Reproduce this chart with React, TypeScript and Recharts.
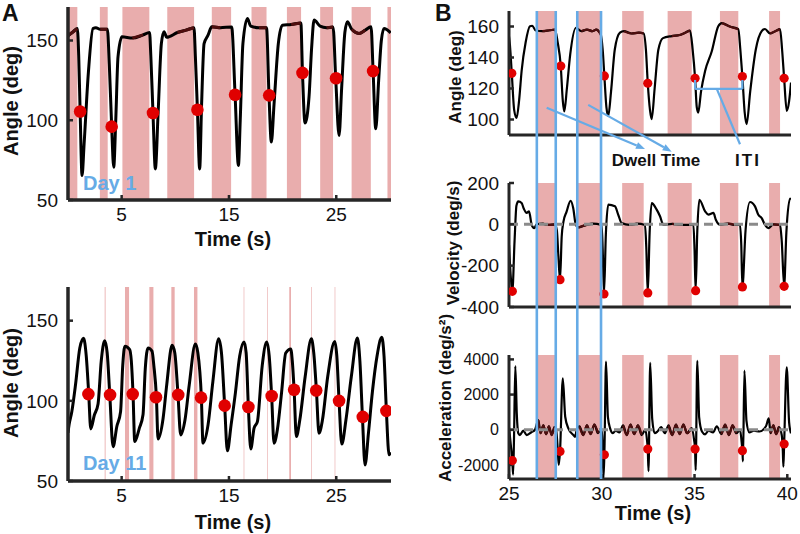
import React from 'react';
import {
  ComposedChart, Line, Scatter, XAxis, YAxis, ReferenceArea, ReferenceLine,
} from 'recharts';

const FONT = '"Liberation Sans", Arial, Helvetica, sans-serif';
const PINK = '#e9adad';
const RED = '#e00000';
const DWELL_LINE = '#4e0e0e';
const BLUE = '#66abe6';
const AXIS = '#262626';

// ---------- Panel A, Day 1 (time s, angle deg) ----------
const DAY1_ANGLE: number[][] = [
  [0.0, 153], [0.4, 155], [0.87, 157.5], [1.0, 140], [1.13, 105.5], [1.31, 65.3], [1.5, 85], [1.9, 130], [2.33, 157.5],
  [2.6, 158], [3.0, 157], [3.67, 157], [3.85, 135], [4.07, 96], [4.26, 70.6], [4.45, 100], [4.66, 139.7], [5.03, 152.3],
  [6.0, 151.5], [7.0, 153.5], [7.6, 155], [7.72, 140], [7.92, 104.5], [8.14, 69.5], [8.4, 105], [8.7, 148], [8.95, 155.5],
  [9.2, 152], [10.2, 155], [11.0, 156.5], [11.74, 158], [11.87, 140], [12.06, 106.6], [12.27, 69.5], [12.45, 110],
  [12.68, 148], [13.05, 153.3], [13.4, 158.6], [14.2, 158], [15.25, 158.5], [15.57, 116], [15.88, 71.6], [16.05, 100],
  [16.3, 148], [16.72, 163.8], [17.03, 159], [17.8, 158], [18.5, 158], [18.73, 115.6], [18.95, 86.3], [19.2, 110],
  [19.6, 148], [19.98, 159.6], [20.8, 160], [21.7, 161], [21.85, 129.7], [22.09, 98.2], [22.46, 114.6], [22.7, 145],
  [22.93, 162.8], [23.49, 159], [24.1, 158], [24.7, 158.4], [24.95, 126], [25.26, 90.4], [25.5, 120], [25.8, 155],
  [26.04, 161.8], [26.44, 157], [27.12, 154.4], [27.7, 156.5], [28.24, 158.6], [28.43, 131], [28.68, 94.6],
  [28.95, 125], [29.2, 150], [29.45, 157.5], [30.07, 154.8],
];
const DAY1_DOTS: number[][] = [
  [1.13, 105.5], [4.07, 96], [7.92, 104.5], [12.06, 106.6], [15.57, 116], [18.75, 115.6], [21.85, 129.7], [24.98, 126.3], [28.43, 130.8],
];
const DAY1_DWELL: number[][] = [
  [0, 0.87], [2.97, 3.7], [5.07, 7.58], [9.25, 11.75], [13.4, 15.2], [17.1, 18.5], [20.4, 21.72], [23.5, 24.7], [26.43, 28.22], [29.77, 30.1],
];

// ---------- Panel A, Day 11 ----------
const DAY11_ANGLE: number[][] = [
  [0.0, 80], [0.1, 85], [0.35, 93], [0.7, 110], [1.1, 133], [1.45, 139], [1.7, 128], [1.93, 104.4], [2.12, 82.5],
  [2.45, 91], [2.8, 98], [3.1, 125], [3.42, 137.5], [3.65, 130], [3.89, 104.2], [4.2, 71.4], [4.55, 84], [4.9, 93.3],
  [5.1, 122], [5.3, 134], [5.75, 132], [5.9, 125], [6.06, 104.4], [6.22, 74.6], [6.65, 83], [6.99, 91.3], [7.2, 120],
  [7.46, 133], [7.83, 131], [8.0, 122], [8.24, 102], [8.39, 76.2], [8.86, 89], [9.2, 110], [9.7, 134.6], [9.95, 130],
  [10.25, 103.7], [10.5, 78.7], [10.9, 88], [11.3, 110], [11.87, 135.4], [12.1, 130], [12.43, 101.7], [12.58, 73.6],
  [13.05, 85], [13.5, 112], [14.04, 138.7], [14.3, 130], [14.6, 97], [14.85, 68.8], [15.2, 85], [15.6, 105], [16.0, 128],
  [16.4, 136.7], [16.6, 130], [16.81, 95.8], [17.03, 70], [17.34, 83], [17.65, 87], [18.1, 122], [18.52, 136.7],
  [18.75, 128], [18.98, 102.7], [19.2, 73.6], [19.51, 82], [19.9, 105], [20.29, 129.8], [20.76, 132.3], [20.9, 125],
  [21.07, 106.9], [21.28, 77.7], [21.6, 88], [22.1, 115], [22.68, 138.7], [22.9, 130], [23.15, 106.3], [23.39, 79.8],
  [23.71, 88], [24.2, 115], [24.86, 137], [25.05, 128], [25.26, 100], [25.51, 73], [25.9, 88], [26.4, 115], [26.97, 139.2],
  [27.2, 125], [27.44, 89.8], [27.68, 60], [28.0, 80], [28.37, 105.8], [28.8, 128], [29.24, 139.6], [29.45, 128],
  [29.67, 93.75], [29.92, 66.3], [30.05, 68],
];
const DAY11_DOTS: number[][] = [
  [1.9, 104.2], [3.92, 103.7], [6.03, 104.2], [8.2, 102.2], [10.27, 103.7], [12.4, 102], [14.6, 97], [16.81, 96.2],
  [18.98, 103], [21.07, 106.9], [23.13, 106.4], [25.26, 100], [27.47, 90], [29.67, 93.75],
];
const DAY11_DWELL: number[][] = [
  [3.42, 3.5], [5.31, 5.69], [7.58, 7.96], [9.63, 9.94], [11.74, 12.06], [16.37, 16.43], [18.55, 18.61], [20.62, 20.78], [22.65, 22.71], [24.85, 24.91],
];

// ---------- Panel B (25–40 s) ----------
const B_ANGLE: number[][] = [
  [24.95, 158], [25.05, 148], [25.15, 129.8], [25.28, 106], [25.41, 101], [25.55, 113], [25.68, 131.3], [25.9, 150],
  [26.13, 160.2], [26.25, 160.5], [26.44, 157.4], [26.8, 157], [27.2, 157.6], [27.48, 158], [27.62, 150], [27.79, 134.5],
  [27.9, 112], [27.98, 105.2], [28.12, 120], [28.3, 142], [28.61, 159.2], [28.9, 157], [29.2, 158], [29.5, 157], [29.7, 158],
  [29.94, 155], [30.05, 145], [30.14, 128.1], [30.25, 108], [30.35, 102.3], [30.5, 118], [30.7, 145], [30.98, 156],
  [31.2, 157], [31.6, 155.5], [32.0, 156], [32.26, 155.5], [32.38, 145], [32.48, 123.4], [32.6, 106], [32.69, 100.2],
  [32.85, 120], [33.05, 145], [33.3, 152.5], [33.77, 153.8], [34.2, 154.5], [34.5, 156], [34.76, 157.4], [34.9, 145],
  [35.03, 126.6], [35.12, 108], [35.2, 104.5], [35.35, 118], [35.57, 131.3], [35.93, 144], [36.28, 160.2], [36.47, 162.2],
  [36.9, 160], [37.36, 158.3], [37.47, 145], [37.58, 127.7], [37.7, 105], [37.81, 97], [38.0, 118], [38.3, 145],
  [38.62, 157], [38.8, 158.4], [39.07, 155.5], [39.35, 157], [39.61, 158.3], [39.72, 145], [39.83, 126.6], [39.97, 105.6],
  [40.1, 112], [40.2, 123.8],
];
const B_ANGLE_DOTS: number[][] = [
  [25.15, 129.8], [27.79, 134.5], [30.14, 128.1], [32.48, 123.4], [35.03, 126.6], [37.58, 127.7], [39.83, 126.6],
];
const B_VELOCITY: number[][] = [
  [25.0, -100], [25.1, -260], [25.18, -324], [25.3, -80], [25.4, 90], [25.5, 111], [25.68, 103], [25.8, 75], [25.95, 55],
  [26.08, 63], [26.22, -2], [26.36, -18], [26.49, 0], [26.8, 4], [27.1, -3], [27.48, 0], [27.58, -30], [27.66, -150],
  [27.75, -268], [27.84, -60], [27.93, 11], [28.1, 60], [28.32, 114], [28.46, 79], [28.6, -2], [28.73, -15], [29.1, -5],
  [29.5, 3], [29.99, -3], [30.05, -120], [30.12, -337], [30.22, -50], [30.35, 95], [30.71, 87], [30.89, 46], [31.07, 6],
  [31.5, -3], [31.9, 3], [32.33, -3], [32.4, -110], [32.48, -332], [32.58, -40], [32.69, 103], [32.96, 71], [33.14, 39],
  [33.32, -2], [33.8, 2], [34.3, -3], [34.94, -3], [35.0, -120], [35.06, -321], [35.15, -30], [35.26, 119], [35.57, 63],
  [35.75, 47], [36.02, 55], [36.15, 22], [36.37, -2], [36.8, 3], [37.2, -3], [37.45, -3], [37.52, -100], [37.58, -303],
  [37.75, -30], [37.99, 108], [38.26, 87], [38.44, 46], [38.62, 30], [38.8, -3], [38.98, -18], [39.25, 0], [39.61, -3],
  [39.7, -80], [39.83, -300], [39.95, -40], [40.15, 124], [40.2, 120],
];
const B_VELOCITY_DOTS: number[][] = [
  [25.18, -324], [27.75, -268], [30.12, -337], [32.48, -332], [35.06, -321], [37.58, -303], [39.83, -300],
];
const B_ACCEL: number[][] = [
  [25.0, 150], [25.1, -900], [25.18, -1750], [25.22, -2550], [25.27, -500], [25.34, 3620], [25.42, 900], [25.5, -200],
  [25.59, -300], [25.77, -50], [25.95, -300], [26.22, -130], [26.4, 0], [26.58, 550], [26.7, -200], [26.85, 250],
  [27.0, -250], [27.15, 200], [27.3, -300], [27.45, 150], [27.55, -100], [27.62, -1000], [27.68, -2000], [27.75, -1230],
  [27.9, 2920], [28.03, 740], [28.2, 80], [28.47, -300], [28.56, -400], [28.65, 0], [28.8, 200], [29.0, -300], [29.2, 250],
  [29.4, -250], [29.6, 300], [29.8, -200], [29.98, 100], [30.04, -700], [30.09, -2760], [30.14, -1420], [30.23, 3870],
  [30.33, 740], [30.45, 80], [30.6, -200], [30.75, -50], [30.95, -150], [31.15, 250], [31.35, -300], [31.55, 300],
  [31.75, -250], [31.95, 250], [32.15, -300], [32.35, 0], [32.44, -600], [32.48, -1100], [32.52, -2350], [32.61, 3810],
  [32.72, 600], [32.85, -200], [33.0, -100], [33.2, 150], [33.4, -200], [33.6, 250], [33.8, -300], [34.0, 300],
  [34.2, -250], [34.4, 300], [34.6, -200], [34.85, 100], [34.98, -600], [35.03, -1100], [35.06, -2300], [35.15, 3920],
  [35.25, 700], [35.4, -100], [35.57, -260], [35.75, -50], [36.0, -150], [36.2, 200], [36.45, -250], [36.65, 300],
  [36.85, -300], [37.05, 250], [37.25, -200], [37.45, 0], [37.54, -700], [37.58, -1190], [37.61, -1800], [37.69, 3360],
  [37.8, 500], [37.95, -150], [38.2, -50], [38.5, -100], [38.85, 200], [39.0, 650], [39.1, -200], [39.25, 250],
  [39.4, -250], [39.55, 150], [39.7, -300], [39.76, -1200], [39.79, -2100], [39.83, -810], [39.97, 3550], [40.1, 400],
  [40.2, -200],
];
const B_ACCEL_DOTS: number[][] = [
  [25.18, -1750], [27.75, -1230], [30.14, -1420], [32.48, -1100], [35.03, -1100], [37.58, -1190], [39.83, -810],
];
const B_DWELL: number[][] = [
  [26.55, 27.5], [28.72, 29.95], [31.1, 32.26], [33.55, 34.85], [36.37, 37.36], [39.02, 39.61],
];
const B_MARKERS: number[] = [26.5, 27.52, 28.68, 29.96];

// annotation geometry in (time s, angle deg) of the B angle panel
const DWELL_ARROWS: number[][][] = [
  [[27.03, 107.6], [32.33, 81]],
  [[29.27, 109.4], [33.77, 79.2]],
];
const ITI_SEGMENTS: number[][][] = [
  [[35.03, 125.5], [35.03, 119.7]],
  [[35.03, 119.7], [37.58, 119.7]],
  [[37.58, 125.5], [37.58, 119.7]],
  [[36.2, 119.7], [37.45, 84]],
];

const toPts = (a: number[][]) => a.map(([t, v]) => ({ t, v }));
const inBands = (t: number, bands: number[][]) => bands.some(([a, b]) => t >= a && t <= b);

type PanelProps = {
  left: number; top: number; width: number; height: number;
  margin: { top: number; right: number; bottom: number; left: number };
  xDomain: number[]; xTicks: number[]; xHeight: number; showX: boolean;
  yDomain: number[]; yTicks: number[]; yWidth: number; yFont?: number;
  bands: number[][]; curve: number[][]; dots: number[][];
  dotR: number; lineW: number; axisW: number; zero?: boolean;
};

function Panel(p: PanelProps) {
  const dotShape = (s: any) => <circle cx={s.cx} cy={s.cy} r={p.dotR} fill={RED} />;
  const xTick = { fill: '#111', fontSize: 19, fontFamily: FONT };
  const yTick = { fill: '#111', fontSize: p.yFont ?? 19, fontFamily: FONT };
  const dwellPts = p.curve.map(([t, v]) => ({ t, v: inBands(t, p.bands) ? v : null }));
  return (
    <div style={{ position: 'absolute', left: p.left, top: p.top }}>
      <ComposedChart width={p.width} height={p.height} margin={p.margin}>
        <XAxis
          type="number" dataKey="t" domain={p.xDomain} ticks={p.xTicks} interval={0} allowDataOverflow
          height={p.xHeight} axisLine={{ stroke: AXIS, strokeWidth: p.axisW }} tickLine={{ stroke: AXIS, strokeWidth: 2.5 }}
          tickSize={-5} tickMargin={13} tick={p.showX ? xTick : false}
        />
        <YAxis
          type="number" dataKey="v" domain={p.yDomain} ticks={p.yTicks} interval={0} allowDataOverflow
          width={p.yWidth} axisLine={{ stroke: AXIS, strokeWidth: p.axisW }} tickLine={{ stroke: AXIS, strokeWidth: 2.5 }}
          tickSize={-5} tickMargin={15} tick={yTick}
        />
        {p.bands.map(([a, b], i) => (
          <ReferenceArea key={i} x1={a} x2={b} fill={PINK} fillOpacity={1} stroke="none" ifOverflow="hidden" />
        ))}
        <Line
          data={toPts(p.curve)} dataKey="v" type="monotone" stroke="#000" strokeWidth={p.lineW}
          dot={false} activeDot={false} isAnimationActive={false}
        />
        <Line
          data={dwellPts} dataKey="v" type="monotone" stroke={DWELL_LINE} strokeWidth={p.lineW}
          dot={false} activeDot={false} connectNulls={false} isAnimationActive={false}
        />
        {p.zero && (
          <ReferenceLine y={0} stroke="#8a8a8a" strokeWidth={3} strokeDasharray="9 6" ifOverflow="hidden" />
        )}
        <Scatter data={toPts(p.dots)} dataKey="v" shape={dotShape} isAnimationActive={false} />
      </ComposedChart>
    </div>
  );
}

const arrowShape = (s: any) => {
  const { x1, y1, x2, y2 } = s;
  const ang = Math.atan2(y2 - y1, x2 - x1);
  const L = 9, W = 3.5;
  const bx = x2 - L * Math.cos(ang), by = y2 - L * Math.sin(ang);
  const px = -Math.sin(ang) * W, py = Math.cos(ang) * W;
  return (
    <g>
      <line x1={x1} y1={y1} x2={bx} y2={by} stroke={BLUE} strokeWidth={2.2} />
      <polygon points={`${x2},${y2} ${bx + px},${by + py} ${bx - px},${by - py}`} fill={BLUE} />
    </g>
  );
};

function Overlay() {
  return (
    <div style={{ position: 'absolute', left: 400, top: 0, pointerEvents: 'none' }}>
      <ComposedChart width={400} height={480} margin={{ top: 11, right: 9, bottom: 1, left: 109 }} data={B_MARKERS.map((t) => ({ t, v: 170 }))}>
        <XAxis type="number" dataKey="t" domain={[25, 40.2]} hide allowDataOverflow />
        <YAxis type="number" dataKey="v" domain={[-132, 170]} hide allowDataOverflow />
        {B_MARKERS.map((t, i) => (
          <ReferenceLine key={'m' + i} x={t} stroke={BLUE} strokeWidth={2.6} ifOverflow="visible" />
        ))}
        {DWELL_ARROWS.map(([a, b], i) => (
          <ReferenceLine key={'d' + i} segment={[{ x: a[0], y: a[1] }, { x: b[0], y: b[1] }]} ifOverflow="visible" shape={arrowShape} />
        ))}
        {ITI_SEGMENTS.map(([a, b], i) => (
          <ReferenceLine key={'i' + i} segment={[{ x: a[0], y: a[1] }, { x: b[0], y: b[1] }]} stroke={BLUE} strokeWidth={2.2} ifOverflow="visible" />
        ))}
      </ComposedChart>
    </div>
  );
}

function VTitle({ x, y, text, size }: { x: number; y: number; text: string; size: number }) {
  return (
    <text transform={`translate(${x},${y}) rotate(-90)`} textAnchor="middle" dominantBaseline="central"
      fontSize={size} fontWeight="bold" fontFamily={FONT} fill="#111">{text}</text>
  );
}

export default function App() {
  const bw = { left: 400, width: 400, yWidth: 109, xDomain: [25, 40.2], xTicks: [25, 30, 35, 40], dotR: 4.6, lineW: 2.2, axisW: 3 };
  return (
    <div style={{ position: 'absolute', left: 0, top: 0, width: 800, height: 534, background: '#fff', overflow: 'hidden' }}>
      <Panel left={0} top={0} width={400} height={250} margin={{ top: 7, right: 9, bottom: 0, left: 0 }}
        xDomain={[0, 30.1]} xTicks={[5, 15, 25]} xHeight={50} showX yDomain={[50, 171]} yTicks={[50, 100, 150]} yWidth={68}
        bands={DAY1_DWELL} curve={DAY1_ANGLE} dots={DAY1_DOTS} dotR={6.3} lineW={3} axisW={3.5} />
      <Panel left={0} top={280} width={400} height={254} margin={{ top: 7, right: 9, bottom: 3, left: 0 }}
        xDomain={[0, 30.1]} xTicks={[5, 15, 25]} xHeight={50} showX yDomain={[50, 171]} yTicks={[50, 100, 150]} yWidth={68}
        bands={DAY11_DWELL} curve={DAY11_ANGLE} dots={DAY11_DOTS} dotR={6.3} lineW={3} axisW={3.5} />
      <Panel {...bw} top={0} height={145} margin={{ top: 11, right: 9, bottom: 5, left: 0 }} xHeight={5} showX={false}
        yDomain={[90, 170]} yTicks={[100, 120, 140, 160]} bands={B_DWELL} curve={B_ANGLE} dots={B_ANGLE_DOTS} />
      <Panel {...bw} top={165} height={157} margin={{ top: 18, right: 9, bottom: 10, left: 0 }} xHeight={5} showX={false}
        yDomain={[-400, 200]} yTicks={[-400, -200, 0, 200]} bands={B_DWELL} curve={B_VELOCITY} dots={B_VELOCITY_DOTS} zero />
      <Panel {...bw} top={340} height={194} margin={{ top: 15, right: 9, bottom: 5, left: 0 }} xHeight={50} showX yFont={16}
        yDomain={[-2800, 4250]} yTicks={[-2000, 0, 2000, 4000]} bands={B_DWELL} curve={B_ACCEL} dots={B_ACCEL_DOTS} zero />
      <Overlay />
      <svg width={800} height={534} style={{ position: 'absolute', left: 0, top: 0, pointerEvents: 'none' }}>
        <text x={2} y={21} fontSize={23} fontWeight="bold" fontFamily={FONT} fill="#111">A</text>
        <text x={435} y={21} fontSize={23} fontWeight="bold" fontFamily={FONT} fill="#111">B</text>
        <text x={83} y={190} fontSize={20} fontWeight="bold" fontFamily={FONT} fill={BLUE}>Day 1</text>
        <text x={83} y={470} fontSize={20} fontWeight="bold" fontFamily={FONT} fill={BLUE}>Day 11</text>
        <text x={656} y={166} textAnchor="middle" fontSize={17} fontWeight="bold" fontFamily={FONT} fill="#111">Dwell Time</text>
        <text x={748} y={166} textAnchor="middle" fontSize={17} fontWeight="bold" fontFamily={FONT} fill="#111" letterSpacing={2}>ITI</text>
        <text x={233} y={246} textAnchor="middle" fontSize={20} fontWeight="bold" fontFamily={FONT} fill="#111">Time (s)</text>
        <text x={233} y={529} textAnchor="middle" fontSize={20} fontWeight="bold" fontFamily={FONT} fill="#111">Time (s)</text>
        <text x={653} y={520} textAnchor="middle" fontSize={20} fontWeight="bold" fontFamily={FONT} fill="#111">Time (s)</text>
        <VTitle x={11} y={101} text="Angle (deg)" size={20} />
        <VTitle x={11} y={383} text="Angle (deg)" size={20} />
        <VTitle x={455} y={77} text="Angle (deg)" size={17} />
        <VTitle x={453} y={243} text="Velocity (deg/s)" size={17} />
        <VTitle x={445} y={398} text="Acceleration (deg/s²)" size={17} />
      </svg>
    </div>
  );
}
